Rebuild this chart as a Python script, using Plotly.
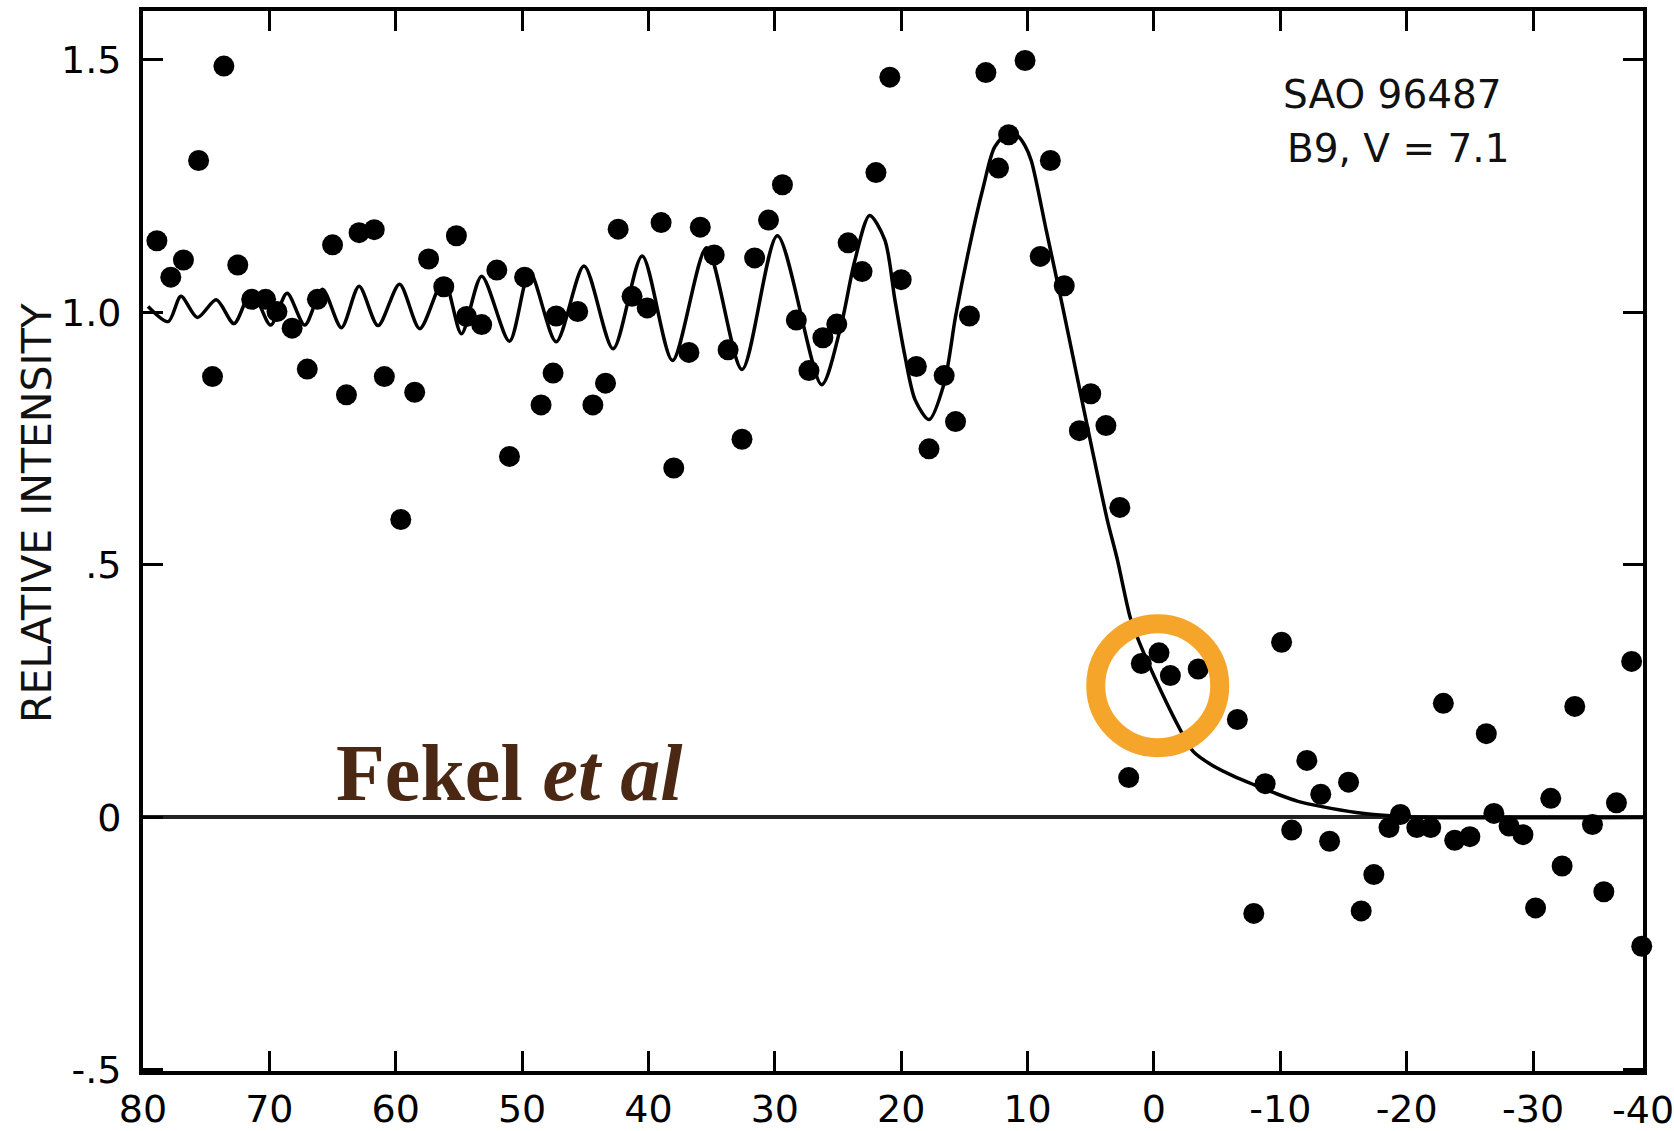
import plotly.graph_objects as go

# ---------------- data ----------------
obs_x = [78.9, 77.8, 76.8, 75.6, 74.5, 73.6, 72.5, 71.4, 70.3, 69.4, 68.2, 67.0, 66.2, 65.0,
         63.9, 62.9, 61.7, 60.9, 59.6, 58.5, 57.4, 56.2, 55.2, 54.4, 53.2, 52.0, 51.0, 49.8,
         48.5, 47.55, 47.3, 45.6, 44.4, 43.4, 42.4, 41.3, 40.1, 39.0, 38.0, 36.8, 35.9, 34.8,
         33.7, 32.6, 31.6, 30.5, 29.4, 28.3, 27.3, 26.2, 25.1, 24.2, 23.1, 22.0, 20.9, 20.0,
         18.8, 17.8, 16.6, 15.7, 14.6, 13.3, 12.3, 11.5, 10.2, 9.0, 8.2, 7.1, 5.9, 5.0,
         3.8, 2.7, 2.0, 1.0, -0.4, -1.3, -3.5, -6.6, -7.9, -8.8, -10.1, -10.9, -12.1, -13.2,
         -13.9, -15.4, -16.4, -17.4, -18.6, -19.5, -20.8, -21.9, -22.9, -23.8, -25.0, -26.3,
         -26.9, -28.1, -29.2, -30.2, -31.4, -32.3, -33.3, -34.7, -35.6, -36.6, -37.8, -38.6]
obs_y = [1.142, 1.070, 1.104, 1.301, 0.873, 1.488, 1.094, 1.026, 1.026, 1.002, 0.969, 0.888, 1.026, 1.134,
         0.837, 1.158, 1.164, 0.873, 0.590, 0.842, 1.106, 1.051, 1.152, 0.992, 0.976, 1.084, 0.715, 1.070,
         0.817, 0.880, 0.993, 1.002, 0.817, 0.860, 1.165, 1.032, 1.009, 1.178, 0.692, 0.921, 1.169, 1.114,
         0.926, 0.749, 1.108, 1.183, 1.253, 0.985, 0.885, 0.950, 0.977, 1.138, 1.081, 1.277, 1.466, 1.065,
         0.893, 0.730, 0.875, 0.784, 0.993, 1.475, 1.286, 1.352, 1.499, 1.111, 1.301, 1.053, 0.766, 0.839,
         0.776, 0.614, 0.079, 0.305, 0.326, 0.281, 0.294, 0.194, -0.190, 0.067, 0.347, -0.025, 0.113, 0.046,
         -0.047, 0.070, -0.185, -0.113, -0.020, 0.006, -0.020, -0.020, 0.226, -0.045, -0.038, 0.166,
         0.008, -0.017, -0.034, -0.179, 0.038, -0.096, 0.220, -0.014, -0.147, 0.029, 0.309, -0.255]

model_x = [79.6, 78.0, 77.0, 75.7, 74.2, 72.8, 71.4, 69.9, 68.6, 67.2, 65.8, 64.3, 62.9, 61.4,
           59.7, 58.1, 56.2, 54.8, 53.2, 51.0, 49.4, 47.3, 45.1, 42.8, 40.5, 38.1, 35.4, 32.6,
           29.8, 26.3, 24.8, 23.7, 22.5, 21.3, 20.5, 19.7, 18.9, 17.8, 16.6, 15.7, 14.6, 13.5,
           12.6, 11.45, 10.8, 10.2, 9.7, 8.5, 7.3, 6.1, 4.9, 3.7, 2.9, 1.9, 1.4, 0.05, -2.2,
           -3.1, -4.7, -6.3, -7.9, -9.8, -11.4, -13.2, -16.0, -19.0, -22.0, -38.7]
model_y = [1.012, 0.982, 1.032, 0.990, 1.025, 0.978, 1.042, 0.975, 1.038, 0.975, 1.046, 0.970, 1.052, 0.974,
           1.056, 0.968, 1.065, 0.958, 1.072, 0.943, 1.080, 0.942, 1.092, 0.928, 1.112, 0.905, 1.128, 0.887,
           1.152, 0.857, 0.970, 1.100, 1.192, 1.144, 1.025, 0.913, 0.827, 0.788, 0.860, 0.992, 1.130, 1.249,
           1.328, 1.357, 1.350, 1.330, 1.300, 1.160, 1.020, 0.875, 0.730, 0.590, 0.511, 0.398, 0.362, 0.283, 0.168,
           0.131, 0.102, 0.082, 0.065, 0.046, 0.032, 0.022, 0.010, 0.003, 0.0, 0.0]

x_tick_vals = [80, 70, 60, 50, 40, 30, 20, 10, 0, -10, -20, -30]
x_tick_text = ["80", "70", "60", "50", "40", "30", "20", "10", "0", "-10", "-20", "-30"]
x_end_label = "-40"
y_tick_vals = [-0.5, 0, 0.5, 1.0, 1.5]
y_tick_text = ["-.5", "0", ".5", "1.0", "1.5"]

y_title = "RELATIVE INTENSITY"
star_lines = ["SAO 96487", "B9, V = 7.1"]
credit_main, credit_ital = "Fekel", "et al"
highlight_at = (-0.3, 0.261)   # data location of the orange ring

# ---------------- layout / style ----------------
W, H = 1674, 1131
ML, MR, MT, MB = 143, 31, 11, 60
X_RANGE = [80, -38.7]
Y_RANGE = [-0.502, 1.597]
PW, PH = W - ML - MR, H - MT - MB


def px(xp):
    return (xp - ML) / PW


def py(yp):
    return (H - MB - yp) / PH


SANS = "DejaVu Sans"
SERIF = "Liberation Serif"
TICK_SIZE = 38

fig = go.Figure()
fig.add_trace(go.Scatter(x=model_x, y=model_y, mode="lines",
                         line=dict(color="black", width=3.5, shape="spline", smoothing=0.8),
                         hoverinfo="skip", showlegend=False, cliponaxis=True))
fig.add_trace(go.Scatter(x=obs_x, y=obs_y, mode="markers",
                         marker=dict(color="black", size=21, line=dict(width=0)),
                         showlegend=False, cliponaxis=False))

axis_common = dict(showline=True, linecolor="black", linewidth=4, mirror="ticks",
                   ticks="inside", ticklen=20, tickwidth=2.5, tickcolor="black",
                   showgrid=False, automargin=False,
                   tickfont=dict(family=SANS, size=TICK_SIZE, color="black"))

fig.update_xaxes(range=X_RANGE, tickmode="array",
                 tickvals=x_tick_vals, ticktext=x_tick_text,
                 zeroline=False, ticklabelstandoff=1, **axis_common)
fig.update_yaxes(range=Y_RANGE, tickmode="array", tickvals=y_tick_vals, ticktext=y_tick_text,
                 zeroline=True, zerolinecolor="#222", zerolinewidth=3.5,
                 ticklabelstandoff=10, **axis_common)

annotations = [
    dict(text=y_title, textangle=-90, xref="paper", yref="paper", x=px(37), y=py(513),
         xanchor="center", yanchor="middle", showarrow=False,
         font=dict(family=SANS, size=41, color="#111")),
    dict(text=star_lines[0], xref="paper", yref="paper", x=px(1281), y=py(95),
         xanchor="left", yanchor="middle", showarrow=False,
         font=dict(family=SANS, size=39, color="#111")),
    dict(text=star_lines[1], xref="paper", yref="paper", x=px(1285), y=py(149),
         xanchor="left", yanchor="middle", showarrow=False,
         font=dict(family=SANS, size=39, color="#111")),
    dict(text=f"<b>{credit_main} <i>{credit_ital}</i></b>", xref="paper", yref="paper",
         x=px(334), y=py(773), xanchor="left", yanchor="middle", showarrow=False,
         font=dict(family=SERIF, size=80, color="#4A2814")),
    # label at the right end of the x axis
    dict(text=x_end_label, xref="paper", yref="paper", x=1.0, y=py(1110),
         xanchor="center", yanchor="middle", showarrow=False,
         font=dict(family=SANS, size=TICK_SIZE, color="black")),
]

R_RING = 62
fig.add_shape(type="circle", xref="x", yref="y", xsizemode="pixel", ysizemode="pixel",
              xanchor=highlight_at[0], yanchor=highlight_at[1],
              x0=-R_RING, x1=R_RING, y0=-R_RING, y1=R_RING,
              line=dict(color="#F5A52A", width=19), layer="above")

fig.update_layout(width=W, height=H, template="none",
                  margin=dict(l=ML, r=MR, t=MT, b=MB, pad=0),
                  paper_bgcolor="white", plot_bgcolor="white",
                  showlegend=False, annotations=annotations)

fig.write_html("out.html")
